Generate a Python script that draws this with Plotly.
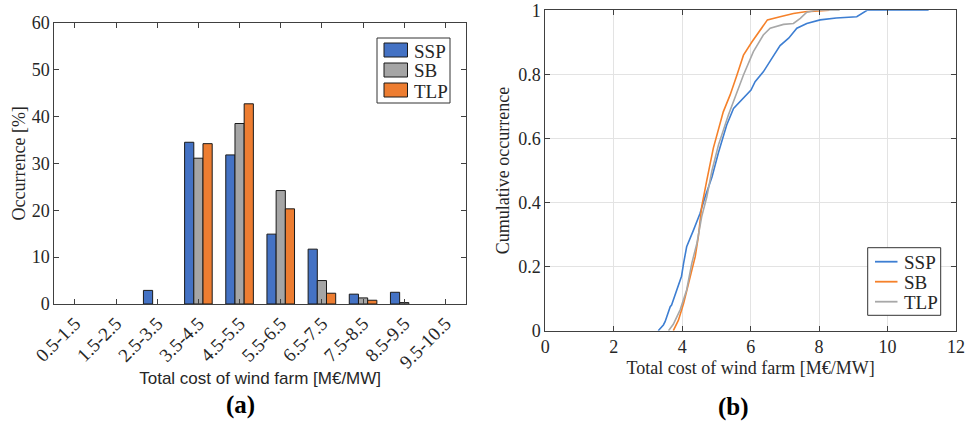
import plotly.graph_objects as go

# ---- Data: (a) histogram of total cost ----
series = ["SSP", "SB", "TLP"]
bins = ["0.5-1.5", "1.5-2.5", "2.5-3.5", "3.5-4.5", "4.5-5.5",
        "5.5-6.5", "6.5-7.5", "7.5-8.5", "8.5-9.5", "9.5-10.5"]
hist_ssp = [0, 0, 2.9, 34.5, 31.8, 14.9, 11.7, 2.1, 2.5, 0]
hist_sb = [0, 0, 0, 31.1, 38.5, 24.2, 5.0, 1.3, 0.3, 0]
hist_tlp = [0, 0, 0, 34.2, 42.7, 20.3, 2.3, 0.8, 0, 0]

# ---- Data: (b) cumulative occurrence ----
cdf_ssp_x = [3.30, 3.45, 3.50, 3.65, 3.69, 3.84, 3.98, 4.04, 4.13, 4.33, 4.52, 4.67,
             4.87, 5.06, 5.30, 5.50, 5.79, 6.01, 6.13, 6.37, 6.62, 6.86, 7.11, 7.35,
             7.64, 8.03, 8.50, 9.10, 9.40, 11.2]
cdf_ssp_y = [0.0, 0.018, 0.028, 0.075, 0.08, 0.127, 0.17, 0.21, 0.262, 0.314, 0.366, 0.418,
             0.48, 0.556, 0.642, 0.694, 0.725, 0.751, 0.777, 0.808, 0.85, 0.89, 0.913, 0.944,
             0.959, 0.97, 0.976, 0.98, 1.0, 1.0]
cdf_sb_x = [3.74, 3.89, 4.04, 4.23, 4.38, 4.47, 4.57, 4.72, 4.91, 5.20, 5.40, 5.60,
            5.79, 6.04, 6.28, 6.49, 6.86, 7.25, 7.64, 8.03, 8.30]
cdf_sb_y = [0.0, 0.033, 0.085, 0.168, 0.231, 0.293, 0.387, 0.47, 0.57, 0.683, 0.736, 0.798,
            0.86, 0.902, 0.939, 0.97, 0.98, 0.99, 0.996, 0.998, 1.0]
cdf_tlp_x = [3.60, 3.74, 3.94, 4.13, 4.28, 4.43, 4.57, 4.72, 4.87, 5.01, 5.06, 5.35,
             5.60, 5.79, 6.08, 6.37, 6.57, 6.96, 7.25, 7.45, 7.64, 7.90, 8.60]
cdf_tlp_y = [0.0, 0.02, 0.065, 0.127, 0.21, 0.273, 0.356, 0.418, 0.50, 0.564, 0.58, 0.673,
             0.746, 0.798, 0.871, 0.923, 0.944, 0.956, 0.959, 0.975, 0.994, 1.0, 1.0]

y1_ticks = [0, 10, 20, 30, 40, 50, 60]
x2_ticks = [0, 2, 4, 6, 8, 10, 12]
y2_ticks = [0, 0.2, 0.4, 0.6, 0.8, 1]
y2_ticklabels = ["0", "0.2", "0.4", "0.6", "0.8", "1"]

SERIF = "Liberation Serif, Times New Roman, serif"
SANS = "Liberation Sans, Arial, sans-serif"
DARK = "#262626"
AX = "#404040"
W, H = 976, 425

bar_colors = {"SSP": "#4472C4", "SB": "#A5A5A5", "TLP": "#ED7D31"}
line_colors = {"SSP": "#3D7ED2", "SB": "#F5812A", "TLP": "#A8A8A8"}

fig = go.Figure()

for name, vals in zip(series, [hist_ssp, hist_sb, hist_tlp]):
    # empty bins are not drawn (no outline at zero)
    shown = [v if v > 0 else None for v in vals]
    fig.add_trace(go.Bar(x=bins, y=shown, name=name, xaxis="x", yaxis="y", showlegend=False,
                         marker=dict(color=bar_colors[name], line=dict(color="#1a1a1a", width=1))))

for name, xs, ys in zip(series, [cdf_ssp_x, cdf_sb_x, cdf_tlp_x], [cdf_ssp_y, cdf_sb_y, cdf_tlp_y]):
    fig.add_trace(go.Scatter(x=xs, y=ys, name=name, mode="lines", xaxis="x2", yaxis="y2",
                             showlegend=False, line=dict(color=line_colors[name], width=1.6)))

axis_common = dict(showline=True, linecolor=AX, linewidth=1, mirror="ticks",
                   ticks="inside", ticklen=5, tickcolor=AX, zeroline=False, automargin=False)


def px(x):
    return x / W


def py(y):
    return 1 - y / H


shapes = []
annotations = []

# legend (a): boxed, filled rectangles
shapes.append(dict(type="rect", xref="paper", yref="paper", x0=px(377), x1=px(450),
                   y0=py(103), y1=py(38), line=dict(color="#333333", width=1), fillcolor="white"))
for i, name in enumerate(series):
    yc = 50 + 20 * i
    shapes.append(dict(type="rect", xref="paper", yref="paper", x0=px(384), x1=px(407.5),
                       y0=py(yc + 7), y1=py(yc - 7), fillcolor=bar_colors[name],
                       line=dict(color="#1a1a1a", width=1)))
    annotations.append(dict(text=name, x=px(412), y=py(yc + 1), xref="paper", yref="paper",
                            showarrow=False, xanchor="left", yanchor="middle",
                            font=dict(family=SERIF, size=19, color=DARK)))

# legend (b): boxed, line samples
shapes.append(dict(type="rect", xref="paper", yref="paper", x0=px(867.7), x1=px(940.7),
                   y0=py(315.3), y1=py(247.7), line=dict(color="#333333", width=1), fillcolor="white"))
for i, name in enumerate(series):
    yc = 261.7 + 20 * i
    shapes.append(dict(type="line", xref="paper", yref="paper", x0=px(875), x1=px(897.5),
                       y0=py(yc), y1=py(yc), line=dict(color=line_colors[name], width=1.8)))
    annotations.append(dict(text=name, x=px(902), y=py(yc + 1), xref="paper", yref="paper",
                            showarrow=False, xanchor="left", yanchor="middle",
                            font=dict(family=SERIF, size=19, color=DARK)))

annotations += [
    dict(text="<b>(a)</b>", x=px(240), y=py(405), xref="paper", yref="paper",
         showarrow=False, font=dict(family=SERIF, size=25, color="black"),
         xanchor="center", yanchor="middle"),
    dict(text="<b>(b)</b>", x=px(733), y=py(407), xref="paper", yref="paper",
         showarrow=False, font=dict(family=SERIF, size=25, color="black"),
         xanchor="center", yanchor="middle"),
]

fig.update_layout(
    width=W, height=H,
    margin=dict(l=0, r=0, t=0, b=0, autoexpand=False),
    paper_bgcolor="white", plot_bgcolor="white",
    font=dict(family=SERIF, color=DARK, size=17),
    barmode="group", bargap=0.33, bargroupgap=0,
    showlegend=False,
    xaxis=dict(domain=[px(54.3), px(466)], anchor="y", type="category",
               range=[-0.5, 9.5], tickangle=-45, showgrid=False,
               tickfont=dict(family=SERIF, size=19, color=DARK),
               title=dict(text="Total cost of wind farm [M€/MW]",
                          font=dict(family=SANS, size=17, color=DARK), standoff=0),
               **axis_common),
    yaxis=dict(domain=[py(304), py(22.7)], anchor="x", range=[0, 60],
               tickvals=y1_ticks, showgrid=False,
               tickfont=dict(family=SERIF, size=18, color=DARK),
               title=dict(text="Occurrence [%]", font=dict(family=SERIF, size=18, color=DARK),
                          standoff=1),
               **axis_common),
    xaxis2=dict(domain=[px(545.3), px(956)], anchor="y2", range=[0, 12],
                tickvals=x2_ticks, showgrid=True, gridcolor="#e3e3e3", gridwidth=1,
                tickfont=dict(family=SERIF, size=18, color=DARK),
                title=dict(text="Total cost of wind farm [M€/MW]",
                           font=dict(family=SERIF, size=18, color=DARK), standoff=5),
                **axis_common),
    yaxis2=dict(domain=[py(330.7), py(10.3)], anchor="x2", range=[0, 1],
                tickvals=y2_ticks, ticktext=y2_ticklabels,
                showgrid=True, gridcolor="#e3e3e3", gridwidth=1,
                tickfont=dict(family=SERIF, size=18, color=DARK),
                title=dict(text="Cumulative occurrence", font=dict(family=SERIF, size=18, color=DARK),
                           standoff=3),
                **axis_common),
    shapes=shapes,
    annotations=annotations,
)

fig.write_html("out.html", config={"displayModeBar": False},
               post_script="document.body.style.margin='0px';")
